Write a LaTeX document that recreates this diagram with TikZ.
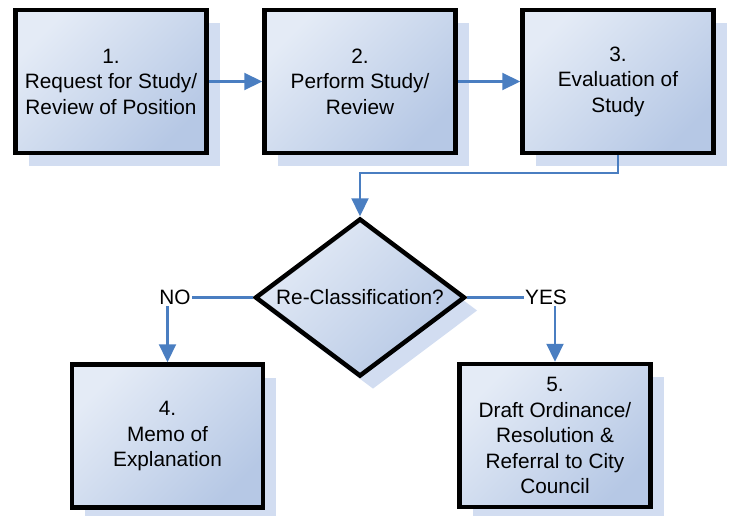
\documentclass[tikz,border=0pt]{standalone}
\usepackage{fontspec}
\setmainfont{Liberation Sans}
\usetikzlibrary{arrows.meta,shapes.geometric,shadows}
\definecolor{lightc}{RGB}{228,235,246}
\definecolor{darkc}{RGB}{182,200,229}
\definecolor{shadowc}{RGB}{210,221,241}
\definecolor{linec}{RGB}{74,126,193}
\tikzset{
  boxstyle/.style={draw=black, line width=4.5pt, rectangle, minimum width=191pt, minimum height=143pt,
    inner sep=0pt, align=center, text=black,
    shading=axis, top color=lightc, bottom color=darkc, shading angle=45,
    drop shadow={shadow xshift=13pt, shadow yshift=-13pt, fill=shadowc, opacity=1},
    font=\fontsize{20.8}{25.5}\selectfont},
  decstyle/.style={draw=black, line width=4.5pt, diamond, minimum width=210pt, minimum height=158pt,
    inner sep=0pt, shading=axis, top color=lightc, bottom color=darkc, shading angle=45,
    drop shadow={shadow xshift=13pt, shadow yshift=-13pt, fill=shadowc, opacity=1}},
  lbl/.style={font=\fontsize{20.8}{25.5}\selectfont, text=black, inner sep=1pt},
  conn/.style={draw=linec, line width=2.2pt},
  arr/.style={conn, -{Triangle[length=18pt,width=17pt]}}
}
\begin{document}
\begin{tikzpicture}[x=1pt,y=-1pt]
\useasboundingbox (0,0) rectangle (732,515);
\node[boxstyle] (b1) at (111,81.5) {1.\\Request for Study/\\Review of Position};
\node[boxstyle] (b2) at (360,81.5) {2.\\Perform Study/\\Review};
\node[boxstyle] (b3) at (618,81.5) {3.\\Evaluation of\\Study};
\node[decstyle] (d) at (360,297.5) {};
\node[lbl] (dt) at (d.center) {Re-Classification?};
\node[boxstyle] (b4) at (167.5,436) {4.\\Memo of\\Explanation};
\node[boxstyle] (b5) at (555,435.5) {5.\\Draft Ordinance/\\Resolution \&\\Referral to City\\Council};
\node[lbl] (no) at (175,297.5) {NO};
\node[lbl] (yes) at (546,297.5) {YES};
\draw[arr] (b1.east) -- (b1.east -| b2.west);
\draw[arr] (b2.east) -- (b2.east -| b3.west);
\draw[arr] (b3.south) -- ++(0,18) -| (d.north);
\draw[conn] (d.west) -- (d.west -| no.east);
\draw[conn] (d.east) -- (d.east -| yes.west);
\draw[arr] (no.south -| b4.north) -- (b4.north);
\draw[arr] (yes.south -| b5.north) -- (b5.north);
\end{tikzpicture}
\end{document}
